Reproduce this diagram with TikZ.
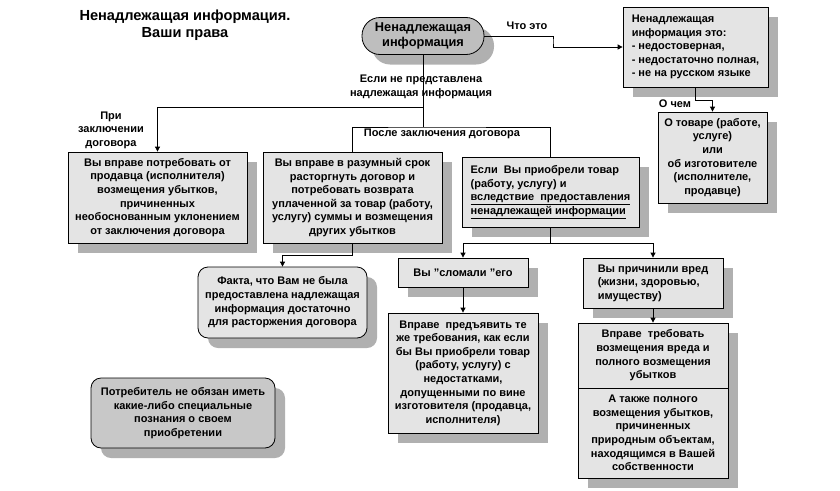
\documentclass[tikz,border=0pt]{standalone}
\usepackage{fontspec}
\setmainfont{Liberation Sans}
\usetikzlibrary{arrows.meta,shadows}
\definecolor{boxfill}{HTML}{E4E4E4}
\definecolor{pillfill}{HTML}{BEBEBE}
\definecolor{notefill}{HTML}{C8C8C8}
\definecolor{shade}{HTML}{B0B0B0}
\tikzset{
  card/.style={draw=black, line width=0.8pt, fill=boxfill, inner sep=2pt,
    align=center, font=\bfseries\fontsize{11}{13.6}\selectfont,
    drop shadow={shadow xshift=10pt, shadow yshift=-10pt, fill=shade, opacity=1}},
  roundcard/.style={card, rounded corners=10pt},
  pill/.style={card, fill=pillfill, rounded corners=18pt,
    font=\bfseries\fontsize{12.8}{15}\selectfont},
  tag/.style={font=\bfseries\fontsize{11}{13.6}\selectfont, align=center, inner sep=1pt},
  link/.style={draw=black, line width=0.8pt},
  pointed/.style={-{Triangle[length=5pt,width=5pt]}},
}

\begin{document}
\begin{tikzpicture}[x=1pt,y=-1pt]
  \useasboundingbox (0,0) rectangle (840,490);
  % heading
  \node[font=\bfseries\fontsize{14.6}{16.5}\selectfont, align=center] (title) at (185,25)
       {Ненадлежащая информация.\\Ваши права};
  \node[pill, minimum width=122pt, minimum height=37pt] (source) at (423,36)
       {Ненадлежащая\\информация};
  % right column
  \node[card, align=left, minimum width=145pt, minimum height=80pt] (whatbox) at (695.5,47)
       {Ненадлежащая\\информация это:\\- недостоверная,\\- недостаточно полная,\\- не на русском языке};
  \node[card, minimum width=109pt, minimum height=91pt] (about) at (712.5,157.5)
       {О товаре (работе,\\услуге)\\или\\об изготовителе\\(исполнителе,\\продавце)};
  % second row
  \node[card, minimum width=179pt, minimum height=91pt] (consent) at (157.5,197.5)
       {Вы вправе потребовать от\\продавца (исполнителя)\\возмещения убытков,\\причиненных\\необоснованным уклонением\\от заключения договора};
  \node[card, minimum width=179pt, minimum height=91pt] (cancel) at (352.5,197.5)
       {Вы вправе в разумный срок\\расторгнуть договор и\\потребовать возврата\\уплаченной за товар (работу,\\услугу) суммы и возмещения\\других убытков};
  \node[card, align=left, minimum width=177pt, minimum height=70pt] (bought) at (550.5,192)
       {Если~ Вы приобрели товар\\(работу, услугу) и\\\underline{вследствие~ предоставления}\\\underline{ненадлежащей информации}};
  % lower rows
  \node[roundcard, minimum width=169pt, minimum height=71pt] (facts) at (282.5,302.5)
       {Факта, что Вам не была\\предоставлена надлежащая\\информация достаточно\\для расторжения договора};
  \node[card, minimum width=130pt, minimum height=29pt] (broke) at (463,272.5)
       {Вы "сломали "его};
  \node[card, minimum width=150pt, minimum height=120pt] (demand) at (463,373)
       {Вправе~ предъявить те\\же требования, как если\\бы Вы приобрели товар\\(работу, услугу) с\\недостатками,\\допущенными по вине\\изготовителя (продавца,\\исполнителя)};
  \node[card, align=left, minimum width=140pt, minimum height=50pt] (harm) at (653,283)
       {Вы причинили вред\\(жизни, здоровью,\\имуществу)};
  \node[card, minimum width=150pt, minimum height=65pt] (redressA) at (653,355.5)
       {Вправе~ требовать\\возмещения вреда и\\полного возмещения\\убытков};
  \node[card, minimum width=150pt, minimum height=90pt] (redressB) at (653,433)
       {А также полного\\возмещения убытков,\\причиненных\\природным объектам,\\находящимся в Вашей\\собственности};
  \node[roundcard, fill=notefill, minimum width=184pt, minimum height=70pt] (note) at (183,413)
       {Потребитель не обязан иметь\\какие-либо специальные\\познания о своем\\приобретении};
  % labels on connectors
  \node[tag] (whatlbl) at (527,26) {Что это};
  \node[tag] (aboutlbl) at (675,104) {О чем};
  \node[tag] (missinglbl) at (421,87) {Если не представлена\\надлежащая информация};
  \node[tag] (consentlbl) at (111,130) {При\\заключении\\договора};
  \node[tag] (afterlbl) at (442,134) {После заключения договора};
  \coordinate (fork) at (423,107);
  \coordinate (after) at (423,127);
  \coordinate (bend) at (553,41);
  % connectors
  \draw[link] (source.south) -- (after);
  \draw[link,pointed] (fork) -| (consent.north);
  \draw[link] (cancel.north) |- (after) -| (bought.north);
  \draw[link,pointed] (source.east) -| (bend) |- (whatbox.west);
  \draw[link,pointed] (whatbox.south) -- ++(0,13) -| (about.north);
  \draw[link,pointed] (cancel.south) -- ++(0,12) -| (facts.north);
  \draw[link,pointed] (bought.south) -- ++(0,16) -| (broke.north);
  \draw[link,pointed] (bought.south) -- ++(0,16) -| (harm.north);
  \draw[link,pointed] (broke) -- (demand);
  \draw[link,pointed] (harm) -- (redressA);
\end{tikzpicture}
\end{document}
